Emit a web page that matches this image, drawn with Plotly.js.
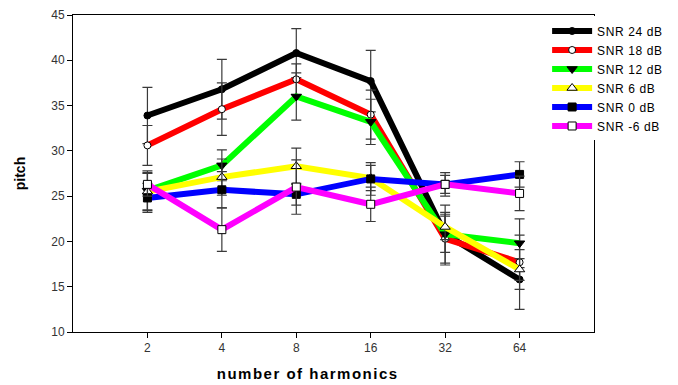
<!DOCTYPE html>
<html>
<head>
<meta charset="utf-8">
<script src="https://cdn.plot.ly/plotly-3.0.1.min.js"></script>
<style>
  html, body { margin: 0; padding: 0; background: #fff; }
  #chart { width: 678px; height: 385px; }
  #chart .legendtext { letter-spacing: 0.6px; }
  #chart .annotation-text { letter-spacing: 1.5px; }
</style>
</head>
<body>
<div id="chart"></div>
<script>
// Categories (number of harmonics)
const categories = ['2', '4', '8', '16', '32', '64'];

// Series values (pitch) and error bar half-lengths
const snr24 = [33.9, 36.8, 40.8, 37.7, 20.8, 15.8];
const err24 = [3.1, 3.3, 2.7, 3.4, 3.2, 3.3];
const snr18 = [30.6, 34.6, 37.9, 34.0, 20.3, 17.7];
const err18 = [2.2, 2.9, 1.7, 2.7, 2.9, 3.0];
const snr12 = [25.6, 28.4, 36.0, 33.2, 20.8, 19.8];
const err12 = [2.2, 1.7, 2.6, 2.5, 2.0, 2.7];
const snr6 = [25.5, 27.1, 28.3, 27.0, 21.6, 16.9];
const err6 = [2.0, 2.0, 2.0, 1.4, 1.4, 1.2];
const snr0 = [24.8, 25.7, 25.2, 26.9, 26.3, 27.4];
const err0 = [1.6, 2.0, 1.2, 1.8, 1.3, 1.4];
const snrm6 = [26.3, 21.3, 26.0, 24.1, 26.3, 25.3];
const errm6 = [1.3, 2.4, 3.0, 1.9, 1.0, 1.9];

const seriesNames = ['SNR 24 dB', 'SNR 18 dB', 'SNR 12 dB', 'SNR 6 dB', 'SNR 0 dB', 'SNR -6 dB'];
const lineColors = ['#000000', '#ff0000', '#00ff00', '#ffff00', '#0000ff', '#ff00ff'];

const FONT = 'Liberation Sans, Arial, Helvetica, sans-serif';

function mk(name, y, err, color, symbol, fill, size) {
  return {
    type: 'scatter',
    mode: 'lines+markers',
    name: name,
    x: categories,
    y: y,
    line: { color: color, width: 6 },
    marker: { symbol: symbol, color: fill, size: size, line: { color: '#000', width: 1 } },
    error_y: { type: 'data', array: err, visible: true, color: '#3a3a3a', thickness: 1.2, width: 5 }
  };
}

const data = [
  mk(seriesNames[0], snr24, err24, lineColors[0], 'circle', '#000', 7),
  mk(seriesNames[1], snr18, err18, lineColors[1], 'circle', '#fff', 7),
  mk(seriesNames[2], snr12, err12, lineColors[2], 'triangle-down', '#000', 9),
  mk(seriesNames[3], snr6, err6, lineColors[3], 'triangle-up', '#fff', 9),
  mk(seriesNames[4], snr0, err0, lineColors[4], 'square', '#000', 8),
  mk(seriesNames[5], snrm6, errm6, lineColors[5], 'square', '#fff', 8)
];

const layout = {
  width: 678,
  height: 385,
  margin: { l: 73, r: 84, t: 15, b: 53 },
  paper_bgcolor: '#fff',
  plot_bgcolor: '#fff',
  font: { family: FONT, color: '#222', size: 11 },
  showlegend: true,
  legend: {
    x: 0.91, y: 0.9953, xanchor: 'left', yanchor: 'top',
    bgcolor: '#fff',
    font: { family: FONT, size: 12, color: '#000' },
    itemwidth: 40,
    tracegroupgap: 0
  },
  xaxis: {
    type: 'category',
    range: [-1, 6],
    showgrid: false, zeroline: false,
    showline: true, linecolor: '#000', linewidth: 1, mirror: true,
    ticks: 'outside', ticklen: 5, tickcolor: '#000',
    tickfont: { family: FONT, size: 12, color: '#333' }
  },
  yaxis: {
    range: [10, 45],
    dtick: 5,
    showgrid: false, zeroline: false,
    showline: true, linecolor: '#000', linewidth: 1, mirror: true,
    ticks: 'outside', ticklen: 5, tickcolor: '#000',
    tickfont: { family: FONT, size: 12, color: '#333' },
    title: { text: 'pitch', font: { family: FONT, size: 14, color: '#000', weight: 'bold' }, standoff: 22 }
  },
  annotations: [
    {
      text: '<b>number of harmonics</b>',
      xref: 'paper', yref: 'paper',
      x: (307 - 73) / 521, y: -0.13,
      xanchor: 'center', yanchor: 'middle',
      showarrow: false,
      font: { family: FONT, size: 15, color: '#000' }
    }
  ]
};

Plotly.newPlot('chart', data, layout, { displayModeBar: false, staticPlot: true });
</script>
</body>
</html>
